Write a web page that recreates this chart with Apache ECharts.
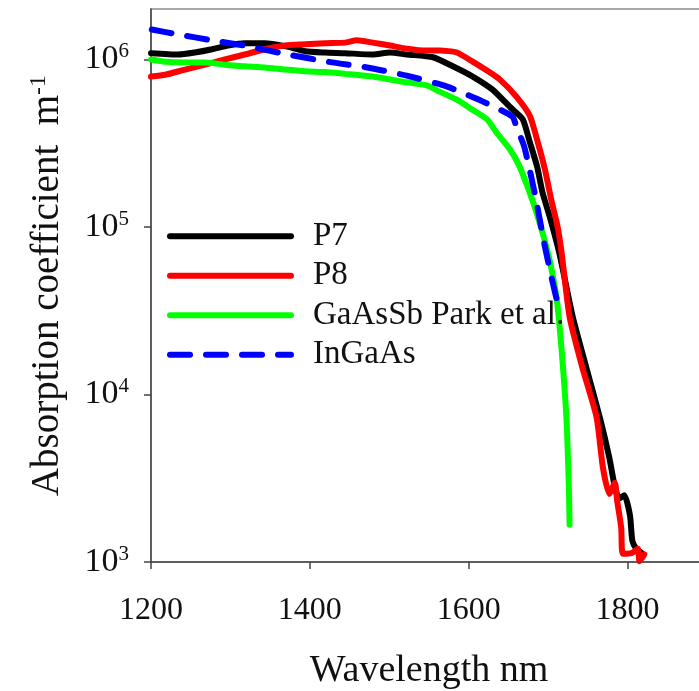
<!DOCTYPE html>
<html>
<head>
<meta charset="utf-8">
<script src="https://cdn.jsdelivr.net/npm/echarts@6/dist/echarts.min.js"></script>
<style>
  html, body { margin: 0; padding: 0; background: #fff; }
  #chart { width: 699px; height: 691px; }
</style>
</head>
<body>
<div id="chart"></div>
<script>
// Absorption spectra: [wavelength (nm), absorption coefficient (m^-1)]
const p7Data = [
  [1200, 1.09e6], [1234, 1.07e6], [1255, 1.10e6], [1277, 1.15e6], [1297, 1.21e6],
  [1318, 1.25e6], [1343, 1.25e6], [1369, 1.20e6], [1394, 1.12e6], [1419, 1.10e6],
  [1444, 1.09e6], [1479, 1.07e6], [1501, 1.10e6], [1522, 1.07e6], [1555, 1.03e6],
  [1580, 9.1e5], [1605, 7.9e5], [1630, 6.6e5], [1652, 5.2e5], [1668, 4.4e5],
  [1677, 3.2e5], [1686, 2.3e5], [1693, 1.6e5], [1702, 1.15e5], [1714, 7.0e4],
  [1731, 2.9e4], [1748, 1.45e4], [1765, 7.3e3], [1777, 4.2e3], [1785, 2.66e3],
  [1790, 2.4e3], [1796, 2.5e3], [1803, 1.9e3], [1806, 1.34e3], [1811, 1.2e3],
  [1818, 1.13e3]
];
const p8Data = [
  [1200, 7.9e5], [1218, 8.1e5], [1243, 8.7e5], [1268, 9.3e5], [1293, 1.0e6],
  [1318, 1.07e6], [1343, 1.15e6], [1369, 1.21e6], [1394, 1.23e6], [1419, 1.25e6],
  [1444, 1.26e6], [1459, 1.30e6], [1479, 1.26e6], [1501, 1.21e6], [1522, 1.16e6],
  [1547, 1.13e6], [1564, 1.13e6], [1585, 1.10e6], [1605, 9.7e5], [1626, 8.4e5],
  [1639, 7.6e5], [1660, 6.0e5], [1677, 4.6e5], [1687, 3.2e5], [1696, 2.2e5],
  [1704, 1.45e5], [1712, 1.0e5], [1717, 7.0e4], [1727, 2.9e4], [1743, 1.45e4],
  [1761, 7.3e3], [1769, 3.65e3], [1777, 2.55e3], [1784, 2.97e3], [1787, 2.3e3],
  [1792, 1.6e3], [1794, 1.12e3], [1805, 1.13e3], [1813, 1.2e3], [1815, 1.01e3],
  [1821, 1.11e3]
];
const gaassbData = [
  [1200, 1.0e6], [1218, 9.7e5], [1243, 9.6e5], [1268, 9.6e5], [1293, 9.3e5],
  [1318, 9.1e5], [1343, 8.96e5], [1369, 8.7e5], [1394, 8.5e5], [1419, 8.4e5],
  [1444, 8.2e5], [1479, 7.9e5], [1522, 7.3e5], [1547, 7.0e5], [1564, 6.4e5],
  [1585, 5.75e5], [1605, 5.0e5], [1623, 4.4e5], [1635, 3.66e5], [1652, 2.9e5],
  [1664, 2.3e5], [1674, 1.74e5], [1683, 1.32e5], [1693, 9.2e4], [1702, 6.3e4],
  [1711, 3.65e4], [1717, 1.83e4], [1723, 7.3e3], [1726, 2.9e3], [1727, 1.67e3]
];
const ingaasData = [
  [1201, 1.51e6], [1234, 1.41e6], [1277, 1.30e6], [1322, 1.20e6], [1372, 1.07e6],
  [1428, 9.6e5], [1472, 8.95e5], [1522, 8.0e5], [1572, 6.9e5], [1618, 5.6e5],
  [1655, 4.56e5], [1660, 3.97e5], [1670, 3.0e5], [1683, 1.6e5], [1696, 7.6e4],
  [1706, 4.6e4], [1712, 3.5e4]
];

const seriesNames = ['P7', 'P8', 'GaAsSb Park et al.', 'InGaAs'];
const xTicks = [1200, 1400, 1600, 1800];
const yExponents = [3, 4, 5, 6];

const serif = "'Liberation Serif', 'Times New Roman', serif";
const axisGray = '#444';

const chart = echarts.init(document.getElementById('chart'), null, { renderer: 'canvas' });

function lineSeries(name, data, color, dashed) {
  return {
    name: name,
    type: 'line',
    data: data,
    symbol: 'none',
    smooth: 0.2,
    lineStyle: {
      color: color,
      width: 6,
      type: dashed ? [20, 16] : 'solid',
      cap: 'round',
      join: 'round'
    },
    itemStyle: { color: color },
    emphasis: { disabled: true },
    z: dashed ? 4 : 3
  };
}

chart.setOption({
  animation: false,
  backgroundColor: '#fff',
  grid: {
    left: 151, top: 9, bottom: 129, right: -8,
    outerBoundsMode: 'none',
    containLabel: false,
    show: true, borderColor: '#8c8c8c', borderWidth: 1.5
  },
  legend: {
    orient: 'vertical',
    left: 167,
    top: 217,
    padding: 0,
    itemWidth: 121,
    itemHeight: 10,
    itemGap: 1,
    data: seriesNames,
    lineStyle: { width: 6, cap: 'round' },
    itemStyle: { opacity: 0 },
    textStyle: {
      fontFamily: serif, fontSize: 33, color: '#111',
      lineHeight: 38.5, padding: [0, 0, 0, 17]
    }
  },
  xAxis: {
    type: 'value',
    min: 1200, max: 1900, interval: 200,
    name: 'Wavelength nm',
    nameLocation: 'middle',
    nameGap: 90,
    nameTextStyle: { fontFamily: serif, fontSize: 38, color: '#111' },
    axisLine: { show: true, lineStyle: { color: axisGray, width: 1.5 } },
    axisTick: { show: true, length: 7, lineStyle: { color: axisGray, width: 1.5 } },
    axisLabel: {
      fontFamily: serif, fontSize: 32, color: '#111', margin: 33,
      showMaxLabel: false,
      formatter: v => (xTicks.indexOf(v) >= 0 ? String(v) : '')
    },
    splitLine: { show: false }
  },
  yAxis: {
    type: 'log',
    logBase: 10,
    min: 1000, max: 2e6,
    interval: 1,
    name: '{n|Absorption coefficient  m}{s|-1}',
    nameLocation: 'middle',
    nameGap: 82,
    nameRotate: 90,
    nameTextStyle: {
      fontFamily: serif, fontSize: 39, color: '#111',
      rich: {
        n: { fontFamily: serif, fontSize: 39, color: '#111', lineHeight: 42 },
        s: { fontFamily: serif, fontSize: 24, color: '#111', verticalAlign: 'top', lineHeight: 24 }
      }
    },
    axisLine: { show: true, lineStyle: { color: axisGray, width: 1.5 } },
    axisTick: { show: true, length: 7, lineStyle: { color: axisGray, width: 1.5 } },
    axisLabel: {
      margin: 22,
      showMaxLabel: false,
      formatter: function (v) {
        const e = Math.round(Math.log10(v));
        if (yExponents.indexOf(e) < 0 || Math.abs(Math.log10(v) - e) > 1e-6) return '';
        return '{b|10}{s|' + e + '}';
      },
      rich: {
        b: { fontFamily: serif, fontSize: 34, color: '#111', lineHeight: 36 },
        s: { fontFamily: serif, fontSize: 21, color: '#111', verticalAlign: 'top', lineHeight: 21 }
      }
    },
    splitLine: { show: false },
    minorTick: { show: false }
  },
  series: [
    lineSeries(seriesNames[0], p7Data, '#000000', false),
    lineSeries(seriesNames[1], p8Data, '#ff0000', false),
    lineSeries(seriesNames[2], gaassbData, '#00ff00', false),
    lineSeries(seriesNames[3], ingaasData, '#0000ff', true)
  ]
});
</script>
</body>
</html>
